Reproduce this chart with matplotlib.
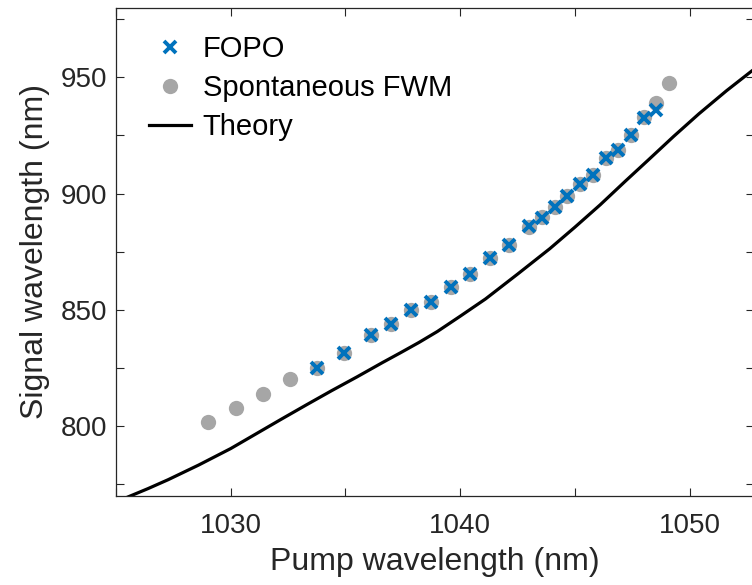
import numpy as np
import matplotlib
matplotlib.use("Agg")
import matplotlib.pyplot as plt
from matplotlib.ticker import MultipleLocator

# FOPO signal vs pump (nm)
fopo_pump = [1033.76, 1034.94, 1036.10, 1036.97, 1037.84, 1038.71, 1039.59, 1040.41,
             1041.29, 1042.13, 1043.00, 1043.57, 1044.12, 1044.67, 1045.22, 1045.77,
             1046.34, 1046.89, 1047.46, 1048.01, 1048.55]
fopo_signal = [825.0, 831.6, 839.1, 843.8, 849.9, 853.6, 859.9, 865.4,
               872.1, 877.9, 886.0, 889.6, 894.3, 898.8, 904.2, 908.2,
               915.1, 918.7, 925.0, 932.6, 935.8]

# spontaneous FWM
fwm_pump = [1029.03, 1030.22, 1031.41, 1032.58, 1033.76, 1034.94, 1036.10, 1036.97,
            1037.84, 1038.71, 1039.59, 1040.41, 1041.29, 1042.13, 1043.00, 1043.57,
            1044.12, 1044.67, 1045.22, 1045.77, 1046.34, 1046.89, 1047.46, 1048.01,
            1048.55, 1049.10]
fwm_signal = [801.7, 807.9, 813.7, 820.1, 825.0, 831.6, 839.1, 843.8,
              849.9, 853.6, 859.9, 865.4, 872.1, 877.9, 885.5, 889.8,
              894.3, 898.8, 904.2, 908.2, 915.1, 918.7, 925.0, 933.0,
              939.1, 947.7]

# theory curve
theory_pump = [1025.5, 1026.4, 1027.27, 1028.6, 1030.0, 1031.1, 1032.2, 1033.3, 1034.4,
               1035.5, 1036.6, 1037.4, 1038.2, 1039.0, 1040.0, 1041.1, 1042.5,
               1043.9, 1045.0, 1046.1, 1047.2, 1048.2, 1049.3, 1050.4, 1051.6,
               1052.7, 1054.0]
theory_signal = [769.5, 773.2, 777.0, 783.3, 790.4, 796.7, 803.0, 809.2, 815.3,
                 821.2, 827.3, 831.6, 836.0, 840.7, 847.3, 854.7, 865.4,
                 876.3, 885.6, 895.2, 905.4, 914.5, 924.6, 934.3, 944.2,
                 952.7, 962.0]

plt.rcParams['font.family'] = ['Liberation Sans', 'DejaVu Sans']
txt = '#262626'

fig = plt.figure(figsize=(7.52, 5.85), dpi=100)
ax = fig.add_axes([116 / 752, 89 / 585, 638 / 752, 488.5 / 585])

ax.plot(fwm_pump, fwm_signal, 'o', color='#a6a6a6', ms=11, mec='none',
        label='Spontaneous FWM', zorder=2)
ax.plot(fopo_pump, fopo_signal, 'x', color='#0072bd', ms=9, mew=2.8,
        label='FOPO', zorder=3)
ax.plot(theory_pump, theory_signal, '-', color='black', lw=2.3,
        solid_joinstyle='round', label='Theory', zorder=1)

ax.set_xlim(1025, 1052.8)
ax.set_ylim(770, 980)
ax.xaxis.set_major_locator(MultipleLocator(10))
ax.xaxis.set_minor_locator(MultipleLocator(5))
ax.yaxis.set_major_locator(MultipleLocator(50))
ax.yaxis.set_minor_locator(MultipleLocator(25))
ax.tick_params(which='both', direction='in', top=True, right=True,
               length=6, width=0.8, color=txt, labelsize=20, labelcolor=txt)
ax.tick_params(axis='x', pad=12)
ax.tick_params(axis='y', pad=6)
for s in ax.spines.values():
    s.set_color(txt)
    s.set_linewidth(0.9)

ax.set_xlabel('Pump wavelength (nm)', fontsize=23, color=txt, labelpad=6)
ax.set_ylabel('Signal wavelength (nm)', fontsize=23, color=txt, labelpad=8)

handles, labels = ax.get_legend_handles_labels()
order = [1, 0, 2]
ax.legend([handles[i] for i in order], [labels[i] for i in order],
          loc='upper left', frameon=False, fontsize=21,
          handlelength=1.45, handletextpad=0.4, labelspacing=0.38,
          bbox_to_anchor=(0.01, 0.998))

fig.savefig('out.png', dpi=100)
